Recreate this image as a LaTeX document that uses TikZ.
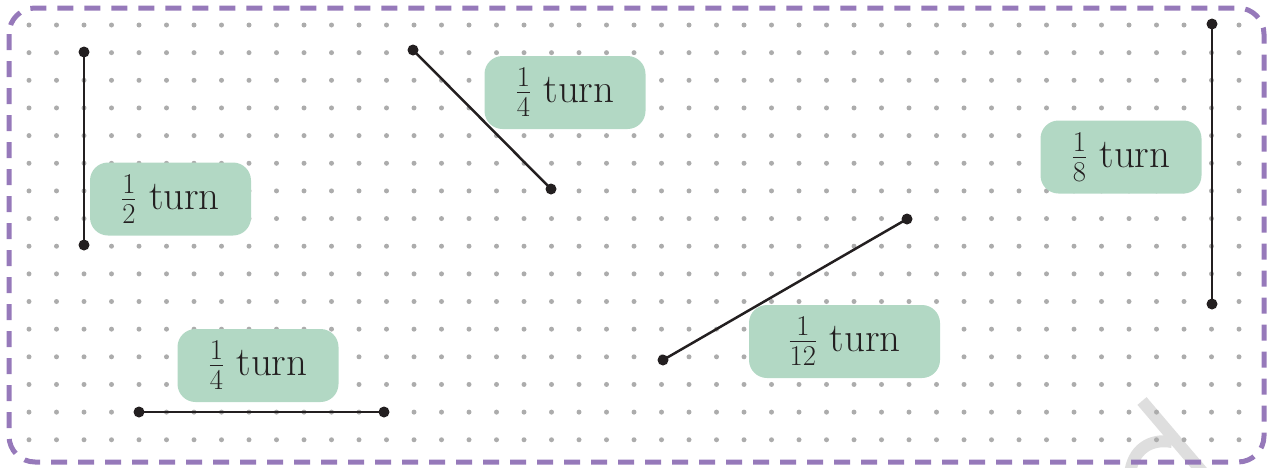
\RequirePackage{fix-cm}
\documentclass[tikz,border=0pt]{standalone}
\usepackage{amsmath}
\definecolor{boxgreen}{RGB}{178,216,196}
\definecolor{framepurple}{RGB}{150,121,186}
\definecolor{textdark}{RGB}{35,31,32}
\definecolor{griddotc}{RGB}{172,172,172}
\definecolor{wmark}{RGB}{222,222,222}
\tikzset{
  lbl/.style={fill=boxgreen, rounded corners=18pt, minimum width=161pt, minimum height=73pt,
    inner sep=0pt, text=textdark, font=\fontsize{41}{46}\selectfont},
  endpt/.style={circle, fill=textdark, inner sep=0pt, minimum size=11pt},
  seg/.style={draw=textdark, line width=2.5pt},
  griddot/.style={fill=griddotc},
  frame/.style={draw=framepurple, line width=5pt, dash pattern=on 16pt off 11pt, rounded corners=26pt},
}
\begin{document}
\begin{tikzpicture}[x=1pt, y=-1pt]
\useasboundingbox (0,0) rectangle (1270,467);
% watermark
\begin{scope}
\clip (0,0) rectangle (1270,467);
\draw[wmark, line width=12pt] (1142,401) -- (1205,475);
\draw[wmark, line width=12pt] (1130,475) .. controls (1132,450) and (1150,438) .. (1172,442);
\end{scope}
% dot grid
\foreach \i in {0,...,44}{
  \foreach \j in {0,...,15}{
    \fill[griddot] ({29+27.5*\i},{25+27.65*\j}) circle[radius=2.5pt];
  }
}
% border
\draw[frame] (9,8) rectangle (1264,462);
% segments
\node[endpt] (a1) at (84,52) {};
\node[endpt] (a2) at (84,245) {};
\node[endpt] (b1) at (413,50) {};
\node[endpt] (b2) at (551,189) {};
\node[endpt] (c1) at (139,412) {};
\node[endpt] (c2) at (384,412) {};
\node[endpt] (d1) at (663,360) {};
\node[endpt] (d2) at (907,219) {};
\node[endpt] (e1) at (1212,24) {};
\node[endpt] (e2) at (1212,304) {};
\draw[seg] (a1.center) -- (a2.center);
\draw[seg] (b1.center) -- (b2.center);
\draw[seg] (c1.center) -- (c2.center);
\draw[seg] (d1.center) -- (d2.center);
\draw[seg] (e1.center) -- (e2.center);
% labels
\node[lbl] (l1) at (170.5,199) {$\frac{1}{2}$ turn};
\node[lbl] (l2) at (565,92.5) {$\frac{1}{4}$ turn};
\node[lbl] (l3) at (258,365.5) {$\frac{1}{4}$ turn};
\node[lbl, minimum width=191pt] (l4) at (844.5,341.5) {$\frac{1}{12}$ turn};
\node[lbl] (l5) at (1121,157) {$\frac{1}{8}$ turn};
\end{tikzpicture}
\end{document}
